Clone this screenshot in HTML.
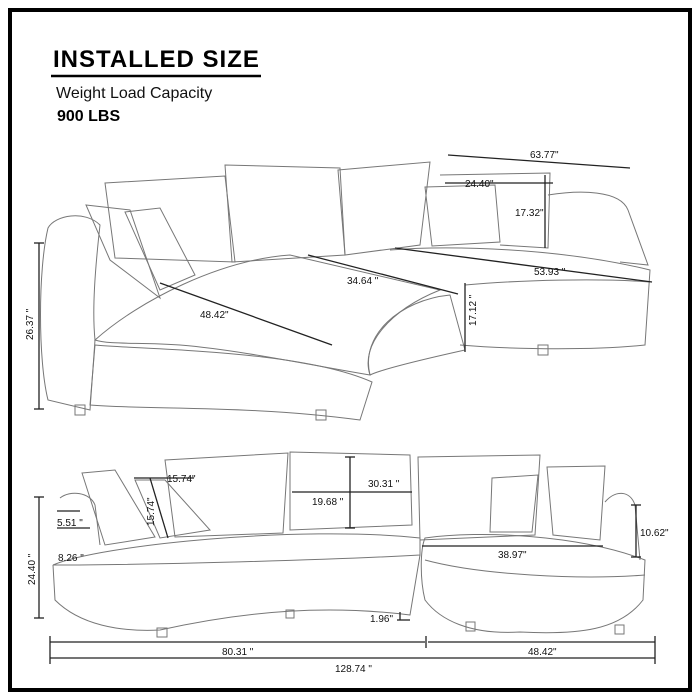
<!DOCTYPE html>
<html><head><style>
html,body{margin:0;padding:0;background:#fff}
svg{display:block}
text{font-family:"Liberation Sans",sans-serif;font-size:10px;fill:#111}
.s{fill:none;stroke:#777;stroke-width:1}
.d{stroke:#222;stroke-width:1.3;fill:none}
</style></head><body>
<svg width="700" height="700" viewBox="0 0 700 700">
<rect x="10" y="10" width="680" height="680" fill="#fff" stroke="#000" stroke-width="4"/>
<text x="53" y="67" style="font-size:24px;font-weight:bold;letter-spacing:1px;fill:#000">INSTALLED SIZE</text>
<line x1="51" y1="76" x2="261" y2="76" stroke="#000" stroke-width="2.5"/>
<text x="56" y="98" style="font-size:16px;fill:#111">Weight Load Capacity</text>
<text x="57" y="121" style="font-size:16px;font-weight:bold;fill:#000">900 LBS</text>

<g class="s">
<path d="M105 183 L225 176 L235 262 L115 258 Z"/>
<path d="M225 165 L340 168 L345 255 L232 262 Z"/>
<path d="M338 170 L430 162 L420 245 L345 255 Z"/>
<path d="M425 187 L495 185 L500 242 L432 246 Z"/>
<path d="M440 175 L550 173 L548 248 L500 245"/>
<path d="M86 205 L130 210 L160 298 L110 260 Z"/>
<path d="M125 212 L160 208 L195 275 L160 290 Z"/>
<path d="M48 228 C55 215 85 210 100 225 C95 270 92 310 95 340 L90 410 L48 400 C38 360 38 270 48 228 Z"/>
<path d="M95 340 C140 300 220 260 290 255 L440 290 C390 310 360 345 370 375 C310 365 240 350 180 345 C140 342 110 345 95 340 Z"/>
<path d="M95 345 C150 350 300 350 372 382 L360 420 C250 405 150 410 90 405 Z"/>
<path d="M370 375 C360 335 400 300 450 295 L465 350 C420 360 380 370 370 375"/>
<path d="M390 250 C450 245 560 248 650 270 L645 345 C600 350 520 350 460 345"/>
<path d="M465 285 C520 280 600 278 650 282"/>
<path d="M548 195 C580 190 620 190 628 210 L648 265 L620 262"/>
<rect x="75" y="405" width="10" height="10"/><rect x="316" y="410" width="10" height="10"/><rect x="538" y="345" width="10" height="10"/>
</g>
<g class="d">
<line x1="448" y1="155" x2="630" y2="168"/>
<line x1="445" y1="183" x2="553" y2="183"/>
<line x1="545" y1="175" x2="545" y2="248"/>
<line x1="395" y1="248" x2="652" y2="282"/>
<line x1="308" y1="255" x2="458" y2="294"/>
<line x1="160" y1="283" x2="332" y2="345"/>
<line x1="465" y1="283" x2="465" y2="352"/>
<line x1="39" y1="243" x2="39" y2="409"/>
<line x1="34" y1="243" x2="44" y2="243"/><line x1="34" y1="409" x2="44" y2="409"/>
</g>
<text x="530" y="158">63.77"</text>
<text x="465" y="187">24.40"</text>
<text x="515" y="216">17.32"</text>
<text x="534" y="275">53.93 "</text>
<text x="347" y="284">34.64 "</text>
<text x="200" y="318">48.42"</text>
<text x="476" y="326" transform="rotate(-90 476 326)">17.12 "</text>
<text x="33" y="340" transform="rotate(-90 33 340)">26.37 "</text>

<g class="s">
<path d="M60 498 C70 490 90 492 95 505 L100 545"/>
<path d="M82 473 L115 470 L155 537 L105 545 Z"/>
<path d="M135 480 L165 480 L210 530 L160 538 Z"/>
<path d="M165 460 L288 453 L283 533 L175 537 Z"/>
<path d="M290 452 L410 455 L412 525 L290 530 Z"/>
<path d="M418 457 L540 455 L535 535 L420 540 Z"/>
<path d="M492 478 L538 475 L532 532 L490 532 Z"/>
<path d="M547 467 L605 466 L600 540 L553 535 Z"/>
<path d="M605 502 C615 490 630 490 635 505 L640 560"/>
<path d="M53 565 C100 545 300 525 420 538 L420 555 C330 560 150 565 53 565 Z"/>
<path d="M53 565 L55 600 C80 625 120 632 160 630 C250 610 330 605 410 615 L420 555"/>
<path d="M425 538 C480 530 580 535 645 560 L643 600 C620 630 580 635 520 632 C470 635 440 620 425 600 C420 580 420 550 425 538 Z"/>
<path d="M425 560 C480 575 580 580 645 575"/>
<rect x="157" y="628" width="10" height="9"/><rect x="286" y="610" width="8" height="8"/><rect x="466" y="622" width="9" height="9"/><rect x="615" y="625" width="9" height="9"/>
</g>
<g class="d">
<line x1="134" y1="478" x2="194" y2="478"/>
<line x1="150" y1="478" x2="168" y2="538"/>
<line x1="292" y1="492" x2="412" y2="492"/>
<line x1="350" y1="457" x2="350" y2="528"/>
<line x1="345" y1="457" x2="355" y2="457"/><line x1="345" y1="528" x2="355" y2="528"/>
<line x1="57" y1="511" x2="80" y2="511"/>
<line x1="57" y1="528" x2="90" y2="528"/>
<line x1="39" y1="497" x2="39" y2="618"/>
<line x1="34" y1="497" x2="44" y2="497"/><line x1="34" y1="618" x2="44" y2="618"/>
<line x1="422" y1="546" x2="603" y2="546"/>
<line x1="636" y1="505" x2="636" y2="557"/>
<line x1="631" y1="505" x2="641" y2="505"/><line x1="631" y1="557" x2="641" y2="557"/>
<line x1="400" y1="612" x2="400" y2="620"/><line x1="397" y1="620" x2="410" y2="620"/>
<line x1="50" y1="642" x2="425" y2="642"/>
<line x1="428" y1="642" x2="655" y2="642"/>
<line x1="50" y1="658" x2="655" y2="658"/>
<line x1="50" y1="636" x2="50" y2="664"/><line x1="426" y1="636" x2="426" y2="648"/><line x1="655" y1="636" x2="655" y2="664"/>
</g>
<text x="167" y="482">15.74"</text>
<text x="154" y="526" transform="rotate(-90 154 526)">15.74"</text>
<text x="368" y="487">30.31 "</text>
<text x="312" y="505">19.68 "</text>
<text x="57" y="526">5.51 "</text>
<text x="58" y="561">8.26 "</text>
<text x="35" y="585" transform="rotate(-90 35 585)">24.40 "</text>
<text x="498" y="558">38.97"</text>
<text x="640" y="536">10.62"</text>
<text x="370" y="622">1.96"</text>
<text x="222" y="655">80.31 "</text>
<text x="528" y="655">48.42"</text>
<text x="335" y="672">128.74 "</text>
</svg>
</body></html>
